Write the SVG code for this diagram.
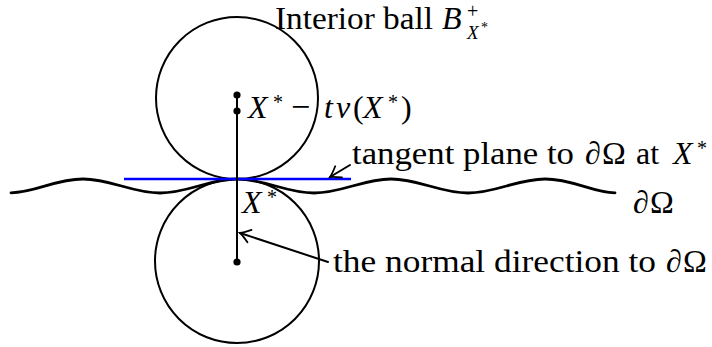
<svg xmlns="http://www.w3.org/2000/svg" width="712" height="347" viewBox="0 0 712 347">
<style>
.ln{fill:none;stroke:#000;stroke-width:2;stroke-linecap:round}
.dot{fill:#000}
.t{font-family:"Liberation Serif","DejaVu Serif",serif;font-size:32px;fill:#000}
.i{font-style:italic}
.sup{font-size:20px}
</style>
<defs>
<marker id="arr" markerUnits="userSpaceOnUse" markerWidth="20" markerHeight="20" viewBox="-12 -10 14 20" refX="0" refY="0" orient="auto">
<path d="M-10,-6.5 Q-3,-1.2 0,0 Q-3,1.2 -10,6.5" fill="none" stroke="#000" stroke-width="1.8" stroke-linecap="round"/>
</marker>
</defs>
<rect width="712" height="347" fill="#fff"/>
<g id="ball-upper"><circle class="ln" cx="237" cy="98" r="81"/></g>
<g id="ball-lower"><circle class="ln" cx="237" cy="261" r="82"/></g>
<g id="boundary"><path class="ln" style="stroke-width:2.8" d="M11 192.8 C36 192.5 55 179 83 179 C111 179 132 193 160 193 C188 193 209 179 237 179 C265 179 286 193 314 193 C342 193 363 179 391 179 C419 179 440 193 468 193 C496 193 517 179 545 179 C573 179 592 192.5 615 192.8"/></g>
<g id="tangent-plane"><line x1="124" y1="179" x2="351" y2="179" stroke="#0000ff" stroke-width="2.6"/></g>
<g id="normal-line">
<line class="ln" x1="237" y1="95" x2="237" y2="262"/>
<circle class="dot" cx="237" cy="95" r="3.6"/>
<circle class="dot" cx="237" cy="111" r="3.6"/>
<circle class="dot" cx="237" cy="262" r="3.6"/>
</g>
<g id="connectors">
<line class="ln" x1="350" y1="165" x2="330" y2="177" marker-end="url(#arr)"/>
<line class="ln" x1="328" y1="262" x2="240" y2="233" marker-end="url(#arr)"/>
</g>
<g id="label-title"><text class="t" y="29"><tspan x="275" textLength="158" lengthAdjust="spacingAndGlyphs">Interior ball</tspan><tspan class="i" x="442">B</tspan><tspan x="467" y="18" font-size="20">+</tspan><tspan class="i" x="467" y="39" font-size="19">X</tspan><tspan x="481" y="32" font-size="14">*</tspan></text></g>
<g id="label-point"><text class="t" y="118"><tspan class="i" x="248">X</tspan><tspan class="sup" x="273" y="109">*</tspan><tspan x="291" y="118" font-size="34">−</tspan><tspan class="i" x="324" y="118">t</tspan><tspan class="i" x="336">ν</tspan><tspan x="353">(</tspan><tspan class="i" x="363">X</tspan><tspan class="sup" x="388" y="109">*</tspan><tspan x="401" y="118">)</tspan></text></g>
<g id="label-tangent"><text class="t" y="164"><tspan x="352" textLength="222" lengthAdjust="spacingAndGlyphs">tangent plane to</tspan><tspan class="i" x="585">∂</tspan><tspan x="602">Ω</tspan><tspan x="636">at</tspan><tspan class="i" x="673">X</tspan><tspan class="sup" x="697" y="155">*</tspan></text></g>
<g id="label-boundary"><text class="t" y="213"><tspan class="i" x="633">∂</tspan><tspan x="650">Ω</tspan></text></g>
<g id="label-xstar"><text class="t" y="213"><tspan class="i" x="242">X</tspan><tspan class="sup" x="267" y="204">*</tspan></text></g>
<g id="label-normal"><text class="t" y="272"><tspan x="333" textLength="323" lengthAdjust="spacingAndGlyphs">the normal direction to</tspan><tspan class="i" x="666">∂</tspan><tspan x="683">Ω</tspan></text></g>
</svg>
